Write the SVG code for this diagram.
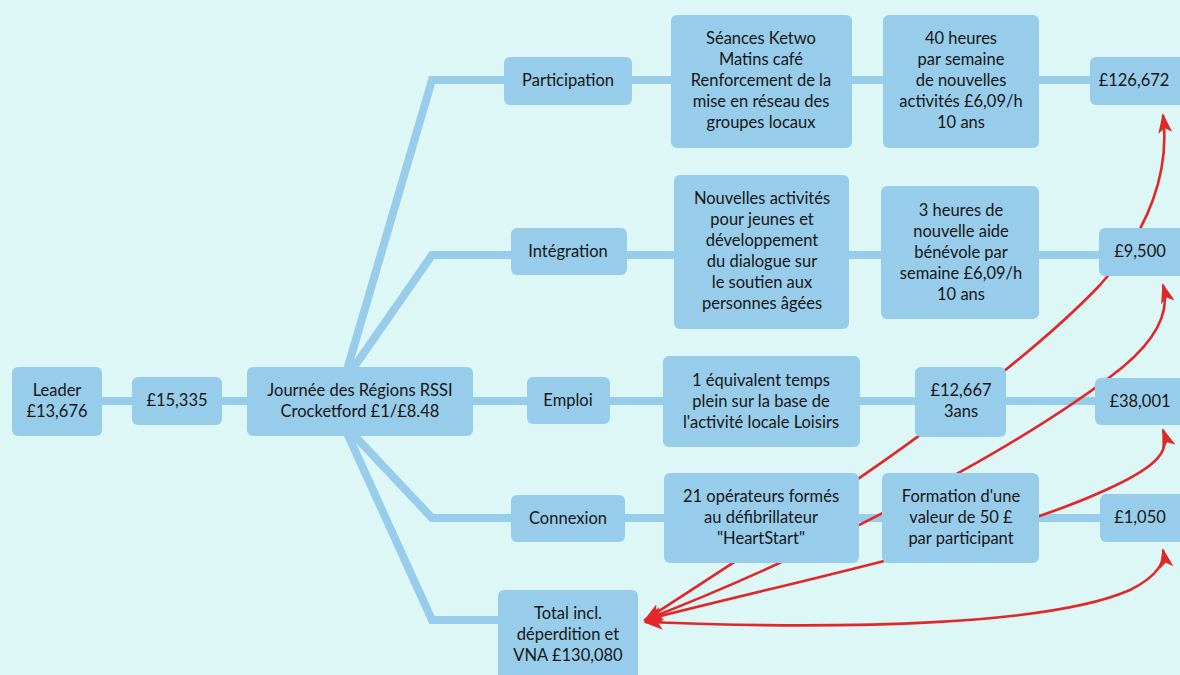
<svg xmlns="http://www.w3.org/2000/svg" width="1180" height="675" viewBox="0 0 1180 675">
<defs>
<style>
.bg{fill:#ddf6f6}
.box{fill:#97cdea}
.conn{fill:none;stroke:#97cdea;stroke-width:8;stroke-linejoin:miter}
.red{fill:none;stroke:#e0282b;stroke-width:2.6;marker-start:url(#ah);marker-end:url(#ah)}
text{font-family:Lato,"Liberation Sans",sans-serif;font-size:16.5px;fill:#161616;text-anchor:middle}
</style>
<marker id="ah" viewBox="0 0 20 14" refX="18" refY="7" markerWidth="20" markerHeight="14" markerUnits="userSpaceOnUse" orient="auto-start-reverse">
<path d="M0,0 L20,7 L0,14 L5,7 z" fill="#e0282b"/>
</marker>
</defs>
<rect class="bg" x="0" y="0" width="1180" height="675"/>
<g id="connectors">
<path class="conn" d="M102,401 H247"/>
<path class="conn" d="M347,370 L432,80 H1100"/>
<path class="conn" d="M352,370 L432,255 H1105"/>
<path class="conn" d="M473,401 H1100"/>
<path class="conn" d="M352,433 L432,518 H1105"/>
<path class="conn" d="M347,433 L432,620 H505"/>
</g>
<g id="red-arrows">
<path class="red" d="M645,620 C800,520 1000,390 1100,285 C1150,230 1170,170 1163,115"/>
<path class="red" d="M645,620 C800,560 1000,460 1110,377 C1160,340 1170,310 1163,285"/>
<path class="red" d="M645,620 C800,580 1000,540 1110,488 C1160,465 1170,450 1163,430"/>
<path class="red" d="M645,622 C850,630 1050,625 1130,590 C1160,575 1165,560 1163,550"/>
</g>
<g id="leader"><rect class="box" x="12" y="367" width="90" height="69" rx="6"/><text x="57" y="396">Leader</text><text x="57" y="417">£13,676</text></g>
<g id="n15335"><rect class="box" x="132" y="377" width="90" height="48" rx="6"/><text x="177" y="406">£15,335</text></g>
<g id="journee"><rect class="box" x="247" y="367" width="226" height="69" rx="6"/><text x="360" y="396">Journée des Régions RSSI</text><text x="360" y="417">Crocketford £1/£8.48</text></g>
<g id="participation"><rect class="box" x="504" y="57" width="128" height="48" rx="6"/><text x="568" y="86">Participation</text></g>
<g id="seances"><rect class="box" x="671" y="15" width="181" height="133" rx="6"/><text x="761" y="44">Séances Ketwo</text><text x="761" y="65">Matins café</text><text x="761" y="86">Renforcement de la</text><text x="761" y="107">mise en réseau des</text><text x="761" y="128">groupes locaux</text></g>
<g id="h40"><rect class="box" x="883" y="15" width="156" height="133" rx="6"/><text x="961" y="44">40 heures</text><text x="961" y="65">par semaine</text><text x="961" y="86">de nouvelles</text><text x="961" y="107">activités £6,09/h</text><text x="961" y="128">10 ans</text></g>
<g id="v126672"><rect class="box" x="1090" y="57" width="95" height="48" rx="6"/><text x="1134" y="86">£126,672</text></g>
<g id="integration"><rect class="box" x="511" y="228" width="116" height="47" rx="6"/><text x="568" y="257">Intégration</text></g>
<g id="nouvelles"><rect class="box" x="674" y="175" width="175" height="154" rx="6"/><text x="762" y="204">Nouvelles activités</text><text x="762" y="225">pour jeunes et</text><text x="762" y="246">développement</text><text x="762" y="267">du dialogue sur</text><text x="762" y="288">le soutien aux</text><text x="762" y="309">personnes âgées</text></g>
<g id="h3"><rect class="box" x="881" y="186" width="158" height="133" rx="6"/><text x="961" y="216">3 heures de</text><text x="961" y="237">nouvelle aide</text><text x="961" y="258">bénévole par</text><text x="961" y="279">semaine £6,09/h</text><text x="961" y="300">10 ans</text></g>
<g id="v9500"><rect class="box" x="1099" y="228" width="90" height="48" rx="6"/><text x="1140" y="257">£9,500</text></g>
<g id="emploi"><rect class="box" x="527" y="377" width="83" height="47" rx="6"/><text x="568" y="406">Emploi</text></g>
<g id="equivalent"><rect class="box" x="663" y="356" width="197" height="91" rx="6"/><text x="761" y="386">1 équivalent temps</text><text x="761" y="407">plein sur la base de</text><text x="761" y="428">l'activité locale Loisirs</text></g>
<g id="v12667"><rect class="box" x="915" y="367" width="91" height="70" rx="6"/><text x="961" y="396">£12,667</text><text x="961" y="417">3ans</text></g>
<g id="v38001"><rect class="box" x="1095" y="378" width="95" height="47" rx="6"/><text x="1140" y="407">£38,001</text></g>
<g id="connexion"><rect class="box" x="511" y="495" width="114" height="47" rx="6"/><text x="568" y="524">Connexion</text></g>
<g id="operateurs"><rect class="box" x="664" y="473" width="195" height="90" rx="6"/><text x="761" y="502">21 opérateurs formés</text><text x="761" y="523">au défibrillateur</text><text x="761" y="544">"HeartStart"</text></g>
<g id="formation"><rect class="box" x="882" y="473" width="157" height="90" rx="6"/><text x="961" y="502">Formation d'une</text><text x="961" y="523">valeur de 50 £</text><text x="961" y="544">par participant</text></g>
<g id="v1050"><rect class="box" x="1100" y="494" width="90" height="48" rx="6"/><text x="1140" y="523">£1,050</text></g>
<g id="total"><rect class="box" x="498" y="590" width="140" height="95" rx="6"/><text x="568" y="619">Total incl.</text><text x="568" y="640">déperdition et</text><text x="568" y="661">VNA £130,080</text></g>
</svg>
